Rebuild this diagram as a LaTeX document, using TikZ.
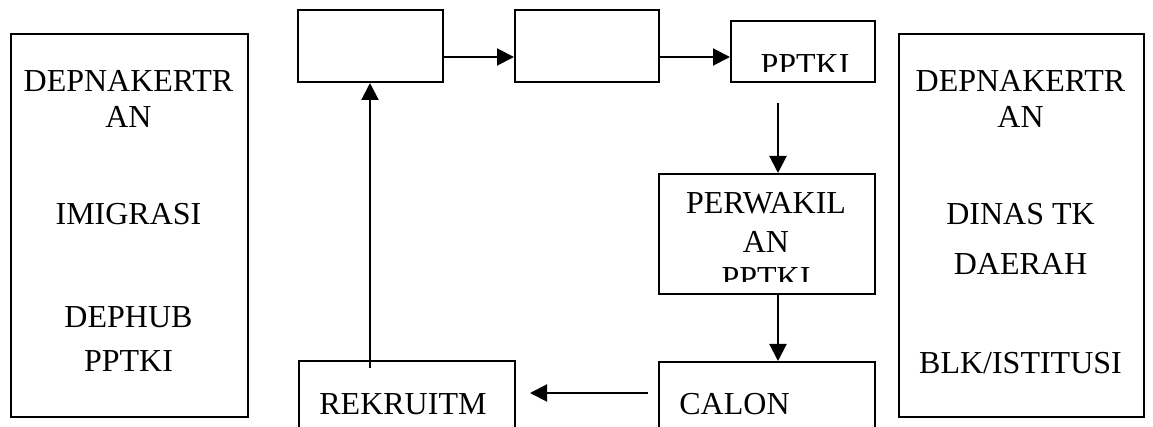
\documentclass[tikz,border=0pt]{standalone}
\usepackage{fontspec}
\setmainfont{Liberation Serif}
\usetikzlibrary{arrows.meta,calc}
\begin{document}
\begin{tikzpicture}[x=0.5pt,y=-0.5pt,
  box/.style={draw,line width=1pt,inner sep=0pt,anchor=north west},
  lbl/.style={inner sep=0pt,anchor=base,font=\fontsize{16}{19}\selectfont},
  arr/.style={line width=1pt,-{Triangle[length=8.5pt,width=8.5pt]}}]
\clip (0,0) rectangle (1153,427);
% boxes
\node[box,minimum width=118.5pt,minimum height=191.5pt] (L) at (10,33) {};
\node[box,minimum width=122.5pt,minimum height=191.5pt] (R) at (898,33) {};
\node[box,minimum width=72.5pt,minimum height=35.75pt] (b1) at (297,9.5) {};
\node[box,minimum width=72pt,minimum height=35.75pt] (b2) at (514,9.5) {};
\node[box,minimum width=72pt,minimum height=30.5pt] (b3) at (730,20) {};
\node[box,minimum width=108pt,minimum height=60pt] (pw) at (658,173) {};
\node[box,minimum width=108pt,minimum height=60pt] (ca) at (658,361) {};
\node[box,minimum width=108pt,minimum height=60pt] (rk) at (298,360) {};
% left texts
\node[lbl] (l1) at (128.5,92) {DEPNAKERTR};
\node[lbl] (l2) at (128.5,128) {AN};
\node[lbl] (l3) at (128.5,225) {IMIGRASI};
\node[lbl] (l4) at (128.5,328) {DEPHUB};
\node[lbl] (l5) at (128.5,372) {PPTKI};
% right texts
\node[lbl] (r1) at (1020.5,92) {DEPNAKERTR};
\node[lbl] (r2) at (1020.5,128) {AN};
\node[lbl] (r3) at (1020.5,225) {DINAS TK};
\node[lbl] (r4) at (1020.5,275) {DAERAH};
\node[lbl] (r5) at (1020.5,374) {BLK/ISTITUSI};
% middle texts
\begin{scope}
\clip (730,20) rectangle (874,72);
\node[lbl] (t3) at (805,76) {PPTKI};
\end{scope}
\node[lbl] (p1) at (766,213.5) {PERWAKIL};
\node[lbl] (p2) at (766,252.5) {AN};
\begin{scope}
\clip (658,173) rectangle (874,282);
\node[lbl] (p3) at (766,289) {PPTKI};
\end{scope}
\node[lbl,anchor=base west] (c1) at (679,415) {CALON};
\node[lbl,anchor=base west] (k1) at (319,415) {REKRUITM};
% connectors
\coordinate (ay) at (0,57);
\draw[arr] (b1.east |- ay) -- (b2.west |- ay);
\draw[arr] (b2.east |- ay) -- (b3.west |- ay);
\coordinate (d1) at (778,103);
\draw[arr] (d1) -- (d1 |- pw.north);
\draw[arr] (d1 |- pw.south) -- (d1 |- ca.north);
\coordinate (h1) at (648,393);
\draw[arr] (h1) -- ($(rk.east |- h1)+(14,0)$);
\coordinate (u1) at (370,368);
\draw[arr] (u1) -- (u1 |- b1.south);
\end{tikzpicture}
\end{document}
